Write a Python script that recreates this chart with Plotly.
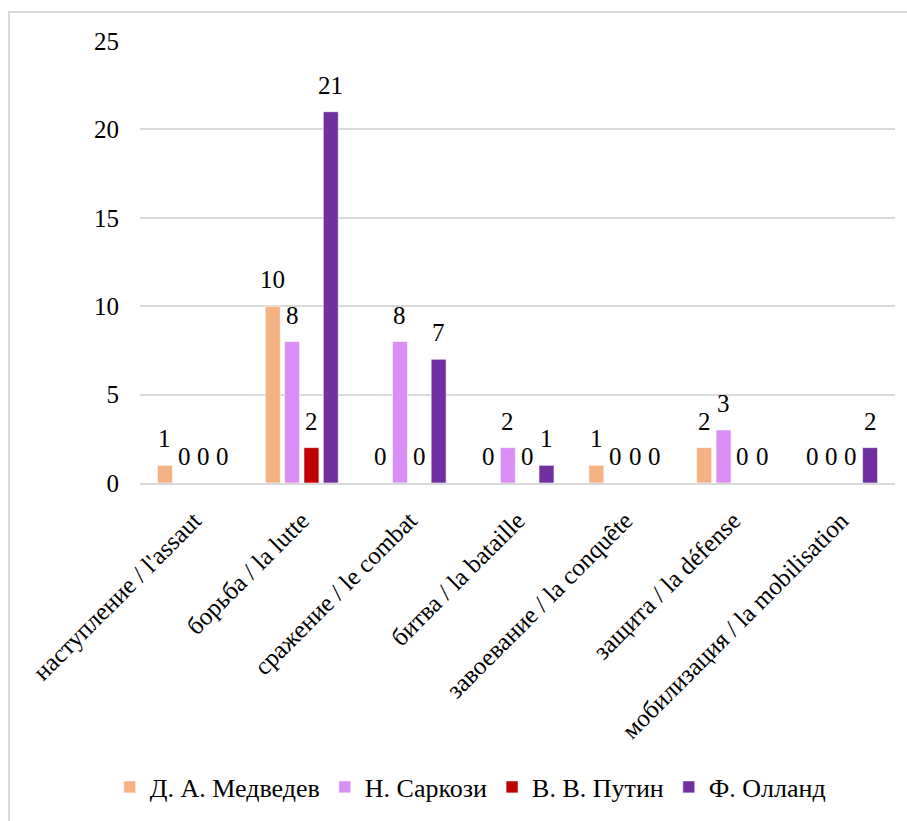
import plotly.graph_objects as go

# Terms and their frequency in the speeches of each leader
categories = [
    "наступление / l'assaut",
    "борьба / la lutte",
    "сражение / le combat",
    "битва / la bataille",
    "завоевание / la conquête",
    "защита / la défense",
    "мобилизация / la mobilisation",
]
medvedev = [1, 10, 0, 0, 1, 2, 0]
sarkozy = [0, 8, 8, 2, 0, 3, 0]
putin = [0, 2, 0, 0, 0, 0, 0]
hollande = [0, 21, 7, 1, 0, 0, 2]

series_names = ["Д. А. Медведев", "Н. Саркози", "В. В. Путин", "Ф. Олланд"]
series_values = [medvedev, sarkozy, putin, hollande]
series_colors = ["#F4B183", "#D98EF5", "#C00000", "#7030A0"]

y_ticks = [0, 5, 10, 15, 20, 25]

FONT = "Times New Roman"
W, H = 907, 821
ML, MR, MT, MB = 140, 12, 41, 338
BARGAP = 0.283
BARGROUPGAP = 0.224

plot_w = W - ML - MR
plot_h = H - MT - MB
slot = plot_w / len(categories) * (1 - BARGAP) / len(series_names)

fig = go.Figure()
for name, vals, color in zip(series_names, series_values, series_colors):
    fig.add_trace(go.Bar(
        name=name, x=categories, y=vals,
        marker=dict(color=color, line=dict(color="rgba(255,255,255,0.6)", width=1)),
        hoverinfo="x+y+name",
    ))

# value labels above every bar (zeros included)
annotations = []
n = len(series_names)
for i, vals in enumerate(series_values):
    for cat, v in zip(categories, vals):
        annotations.append(dict(
            x=cat, y=v, xref="x", yref="y", text=str(v), showarrow=False,
            xanchor="center", yanchor="bottom",
            xshift=(i - (n - 1) / 2) * slot, yshift=11,
            font=dict(family=FONT, size=25, color="black"),
        ))

# light frame around the whole chart
def px_to_paper_x(px):
    return (px - ML) / plot_w

def px_to_paper_y(py):
    return (H - MB - py) / plot_h

fig.add_shape(type="rect", xref="paper", yref="paper",
              x0=px_to_paper_x(9), x1=px_to_paper_x(W + 20),
              y0=px_to_paper_y(H + 20), y1=px_to_paper_y(12),
              line=dict(color="#D9D9D9", width=2), fillcolor="rgba(0,0,0,0)",
              layer="below")

fig.update_layout(
    width=W, height=H,
    margin=dict(l=ML, r=MR, t=MT, b=MB, autoexpand=False),
    paper_bgcolor="white", plot_bgcolor="white",
    barmode="group", bargap=BARGAP, bargroupgap=BARGROUPGAP,
    showlegend=True,
    legend=dict(
        orientation="h", xref="container", yref="container",
        x=0.519, xanchor="center", y=1 - 787 / H, yanchor="middle",
        font=dict(family=FONT, size=26, color="black"),
        traceorder="normal",
    ),
    annotations=annotations,
    xaxis=dict(
        type="category", tickangle=-45, showgrid=False,
        showline=True, linecolor="#D9D9D9", linewidth=2,
        ticks="", ticklabelstandoff=11,
        tickfont=dict(family=FONT, size=25, color="black"),
    ),
    yaxis=dict(
        range=[0, 25], tickvals=y_ticks, showgrid=True,
        gridcolor="#D9D9D9", gridwidth=1.5, zeroline=False, showline=False,
        ticks="", ticklabelstandoff=20,
        tickfont=dict(family=FONT, size=25, color="black"),
    ),
)

fig.write_html("out.html")
